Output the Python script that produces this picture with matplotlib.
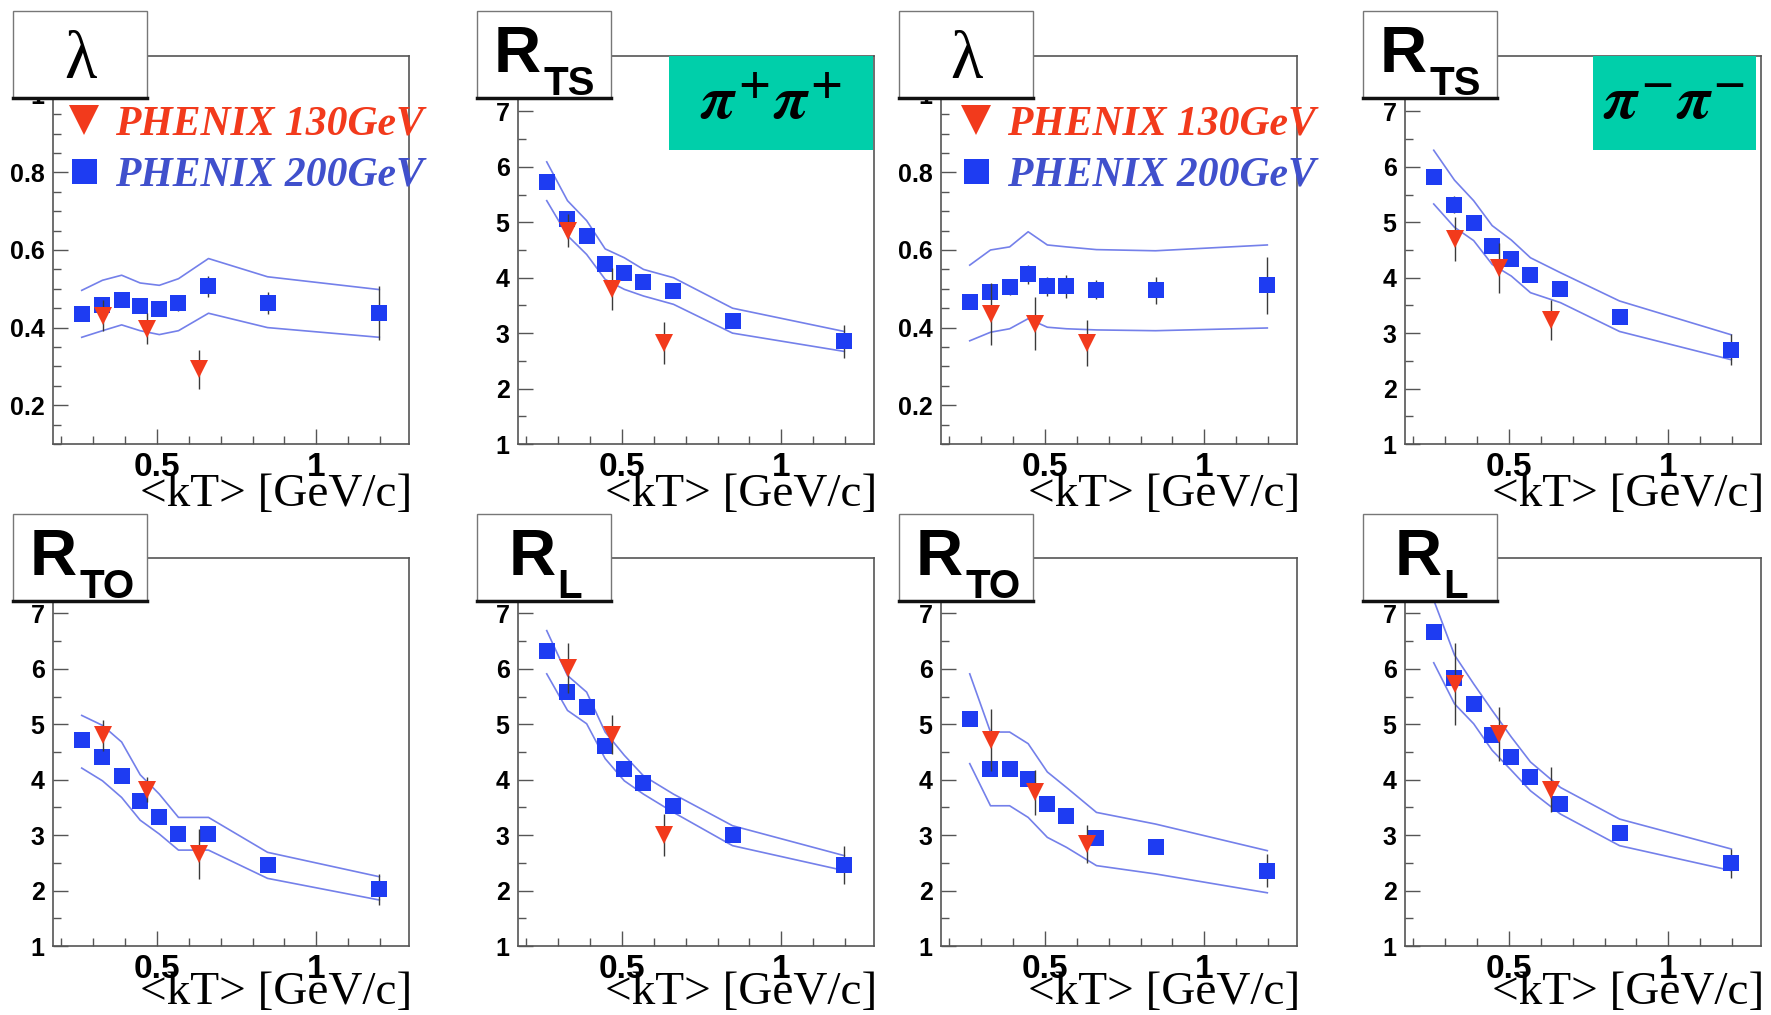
import matplotlib
matplotlib.use('Agg')
import matplotlib.pyplot as plt
from matplotlib.patches import Rectangle
from matplotlib.lines import Line2D
from matplotlib.ticker import MultipleLocator, FixedLocator, FuncFormatter

plt.rcParams['font.family'] = ['Liberation Sans', 'DejaVu Sans']
plt.rcParams['font.weight'] = 'bold'
plt.rcParams['mathtext.fontset'] = 'stix'

# pair momentum bins <kT> [GeV/c]
kt_200 = [0.265, 0.33, 0.39, 0.448, 0.508, 0.568, 0.662, 0.847, 1.197]
kt_130 = [0.333, 0.47, 0.633]

# lambda, pi+pi+
lam_pp_200 = [0.436, 0.457, 0.470, 0.455, 0.449, 0.463, 0.506, 0.463, 0.437]
lam_pp_200_err = [0.012, 0.015, 0.012, 0.015, 0.018, 0.02, 0.027, 0.029, 0.07]
lam_pp_130 = [0.431, 0.397, 0.293]
lam_pp_130_err = [0.04, 0.04, 0.05]
lam_pp_hi = [0.496, 0.522, 0.535, 0.515, 0.509, 0.526, 0.578, 0.531, 0.498]
lam_pp_lo = [0.375, 0.392, 0.407, 0.392, 0.382, 0.392, 0.437, 0.400, 0.375]

# R_TS, pi+pi+
rts_pp_200 = [5.73, 5.06, 4.76, 4.24, 4.09, 3.92, 3.76, 3.22, 2.85]
rts_pp_200_err = [0.1, 0.1, 0.1, 0.1, 0.1, 0.12, 0.08, 0.12, 0.3]
rts_pp_130 = [4.85, 3.79, 2.82]
rts_pp_130_err = [0.3, 0.38, 0.38]
rts_pp_hi = [6.09, 5.39, 5.03, 4.52, 4.36, 4.15, 4.0, 3.45, 3.03]
rts_pp_lo = [5.39, 4.76, 4.42, 3.97, 3.79, 3.67, 3.52, 3.0, 2.67]

# lambda, pi-pi-
lam_mm_200 = [0.466, 0.493, 0.505, 0.537, 0.506, 0.506, 0.498, 0.496, 0.509]
lam_mm_200_err = [0.01, 0.02, 0.02, 0.024, 0.025, 0.03, 0.025, 0.035, 0.073]
lam_mm_130 = [0.436, 0.41, 0.36]
lam_mm_130_err = [0.08, 0.068, 0.06]
lam_mm_hi = [0.561, 0.6, 0.608, 0.647, 0.613, 0.608, 0.601, 0.598, 0.613]
lam_mm_lo = [0.366, 0.388, 0.397, 0.423, 0.401, 0.397, 0.394, 0.392, 0.399]

# R_TS, pi-pi-
rts_mm_200 = [5.82, 5.32, 4.98, 4.58, 4.33, 4.05, 3.8, 3.3, 2.7]
rts_mm_200_err = [0.1, 0.15, 0.12, 0.1, 0.12, 0.12, 0.1, 0.1, 0.28]
rts_mm_130 = [4.7, 4.18, 3.24]
rts_mm_130_err = [0.39, 0.45, 0.36]
rts_mm_hi = [6.3, 5.76, 5.39, 4.94, 4.68, 4.36, 4.09, 3.58, 2.97]
rts_mm_lo = [5.33, 4.91, 4.67, 4.24, 4.03, 3.73, 3.55, 3.03, 2.52]

# R_TO, pi+pi+
rto_pp_200 = [4.71, 4.41, 4.07, 3.62, 3.32, 3.02, 3.02, 2.46, 2.02]
rto_pp_200_err = [0.1, 0.08, 0.1, 0.08, 0.08, 0.1, 0.08, 0.1, 0.28]
rto_pp_130 = [4.8, 3.82, 2.66]
rto_pp_130_err = [0.28, 0.22, 0.45]
rto_pp_hi = [5.16, 4.98, 4.68, 4.09, 3.74, 3.32, 3.32, 2.69, 2.25]
rto_pp_lo = [4.21, 3.98, 3.68, 3.27, 3.02, 2.73, 2.73, 2.22, 1.83]

# R_L, pi+pi+
rl_pp_200 = [6.32, 5.58, 5.32, 4.6, 4.2, 3.94, 3.53, 3.0, 2.46]
rl_pp_200_err = [0.1, 0.12, 0.12, 0.12, 0.1, 0.12, 0.06, 0.1, 0.35]
rl_pp_130 = [6.02, 4.81, 3.0]
rl_pp_130_err = [0.45, 0.35, 0.38]
rl_pp_hi = [6.69, 5.88, 5.58, 4.86, 4.44, 4.07, 3.74, 3.17, 2.63]
rl_pp_lo = [5.91, 5.25, 5.01, 4.38, 3.98, 3.74, 3.41, 2.81, 2.36]

# R_TO, pi-pi-
rto_mm_200 = [5.1, 4.2, 4.2, 4.02, 3.57, 3.35, 2.94, 2.79, 2.36]
rto_mm_200_err = [0.1, 0.1, 0.1, 0.1, 0.1, 0.1, 0.06, 0.1, 0.3]
rto_mm_130 = [4.72, 3.77, 2.84]
rto_mm_130_err = [0.56, 0.41, 0.35]
rto_mm_hi = [5.91, 4.86, 4.86, 4.65, 4.14, 3.86, 3.41, 3.2, 2.72]
rto_mm_lo = [4.29, 3.53, 3.53, 3.32, 2.96, 2.78, 2.45, 2.3, 1.96]

# R_L, pi-pi-
rl_mm_200 = [6.67, 5.83, 5.37, 4.8, 4.41, 4.05, 3.57, 3.03, 2.49]
rl_mm_200_err = [0.12, 0.12, 0.12, 0.1, 0.12, 0.12, 0.08, 0.1, 0.26]
rl_mm_130 = [5.73, 4.83, 3.82]
rl_mm_130_err = [0.74, 0.49, 0.41]
rl_mm_hi = [7.24, 6.25, 5.73, 5.25, 4.77, 4.32, 3.86, 3.29, 2.75]
rl_mm_lo = [6.11, 5.37, 5.01, 4.53, 4.17, 3.8, 3.38, 2.81, 2.36]

legend_labels = ['PHENIX 130GeV', 'PHENIX 200GeV']
pair_labels = [r'$\pi^{+}\pi^{+}$', r'$\pi^{-}\pi^{-}$']

# (row, col, param, subscript, 200, err, 130, err, band hi, band lo)
panels = [
    (0, 0, 'lam', '', lam_pp_200, lam_pp_200_err, lam_pp_130, lam_pp_130_err, lam_pp_hi, lam_pp_lo),
    (0, 1, 'R', 'TS', rts_pp_200, rts_pp_200_err, rts_pp_130, rts_pp_130_err, rts_pp_hi, rts_pp_lo),
    (0, 2, 'lam', '', lam_mm_200, lam_mm_200_err, lam_mm_130, lam_mm_130_err, lam_mm_hi, lam_mm_lo),
    (0, 3, 'R', 'TS', rts_mm_200, rts_mm_200_err, rts_mm_130, rts_mm_130_err, rts_mm_hi, rts_mm_lo),
    (1, 0, 'R', 'TO', rto_pp_200, rto_pp_200_err, rto_pp_130, rto_pp_130_err, rto_pp_hi, rto_pp_lo),
    (1, 1, 'R', 'L', rl_pp_200, rl_pp_200_err, rl_pp_130, rl_pp_130_err, rl_pp_hi, rl_pp_lo),
    (1, 2, 'R', 'TO', rto_mm_200, rto_mm_200_err, rto_mm_130, rto_mm_130_err, rto_mm_hi, rto_mm_lo),
    (1, 3, 'R', 'L', rl_mm_200, rl_mm_200_err, rl_mm_130, rl_mm_130_err, rl_mm_hi, rl_mm_lo),
]

RED = '#F23A1C'
BLUE = '#1E3CF2'
BAND = '#7480EA'
TEXT_BLUE = '#4050CC'
GREEN = '#00CFAA'
FRAME = '#555555'
ERR = '#3A3A3A'

W, H = 1771, 1015
fig = plt.figure(figsize=(W / 100, H / 100), dpi=100)


def fx(x):
    return x / W


def fy(y):
    return 1 - y / H


col_left = [53, 518, 941, 1405]
row_top = [56, 558]
ax_w, ax_h = 356, 388
box_left = [13, 477, 899, 1363]
box_top = [11, 514]
box_w, box_h = 134, 87

for row, col, par, sub, b, be, r, re, hi, lo in panels:
    left, top = col_left[col], row_top[row]
    ax = fig.add_axes([fx(left), fy(top + ax_h), ax_w / W, ax_h / H])

    ax.plot(kt_200, hi, color=BAND, lw=1.2)
    ax.plot(kt_200, lo, color=BAND, lw=1.2)
    ax.errorbar(kt_200, b, yerr=be, fmt='s', color=BLUE, ms=12, mew=0,
                ecolor=ERR, elinewidth=1, capsize=5, zorder=4)
    ax.errorbar(kt_130, r, yerr=re, fmt='v', color=RED, ms=13, mew=0,
                ecolor=ERR, elinewidth=1, capsize=5, zorder=5)

    ax.set_xlim(0.175, 1.29)
    ax.xaxis.set_major_locator(FixedLocator([0.5, 1.0]))
    ax.xaxis.set_minor_locator(MultipleLocator(0.1))
    if par == 'lam':
        ax.set_ylim(0.1, 1.1)
        ax.yaxis.set_major_locator(MultipleLocator(0.2))
        ax.yaxis.set_minor_locator(MultipleLocator(0.05))
    else:
        ax.set_ylim(1, 8)
        ax.yaxis.set_major_locator(MultipleLocator(1))
        ax.yaxis.set_minor_locator(MultipleLocator(0.5))
    ax.xaxis.set_major_formatter(FuncFormatter(lambda v, p: '%g' % v))
    ax.yaxis.set_major_formatter(FuncFormatter(lambda v, p: '%g' % v))

    ax.tick_params(which='both', direction='in', top=False, right=False,
                   color=FRAME, width=1)
    ax.tick_params(which='major', length=11)
    ax.tick_params(which='minor', length=6)
    ax.tick_params(axis='y', labelsize=18, pad=6)
    ax.tick_params(axis='x', labelsize=24, pad=6)
    for sp in ax.spines.values():
        sp.set_color(FRAME)
        sp.set_linewidth(1.2)

    ax.set_xlabel('<kT> [GeV/c]', fontsize=34, family='Liberation Serif',
                  weight='normal', ha='right', va='center')
    ax.xaxis.set_label_coords(1.01, -0.13 if row == 0 else -0.12)

    if par == 'lam':
        handles = [Line2D([], [], marker='v', color=RED, ls='none', ms=22, mew=0),
                   Line2D([], [], marker='s', color=BLUE, ls='none', ms=18, mew=0)]
        leg = ax.legend(handles, legend_labels, loc='upper left',
                        bbox_to_anchor=(0.028 if col == 0 else 0.04, 0.872),
                        frameon=False, borderpad=0, borderaxespad=0,
                        handlelength=1.0, handletextpad=0.25, labelspacing=0.3,
                        prop={'family': 'Liberation Serif', 'style': 'italic',
                              'weight': 'bold', 'size': 30})
        leg.get_texts()[0].set_color(RED)
        leg.get_texts()[1].set_color(TEXT_BLUE)
    elif row == 0:
        # pair-type tag in the corner of the R_TS panels
        g_left, g_right = (669, 873) if col == 1 else (1593, 1756)
        fig.add_artist(Rectangle((fx(g_left), fy(150)), (g_right - g_left) / W, 94 / H,
                                 transform=fig.transFigure, fc=GREEN, ec='none', zorder=6))
        fig.text(fx((g_left + g_right) / 2), fy(104), pair_labels[col // 2],
                 fontsize=44, weight='normal', ha='center', va='center', zorder=7)

    # parameter name box: thin frame, heavy bottom edge
    bl, bt = box_left[col], box_top[row]
    fig.add_artist(Rectangle((fx(bl), fy(bt + box_h)), box_w / W, box_h / H,
                             transform=fig.transFigure, fc='white', ec='#777777',
                             lw=1.0, zorder=10))
    fig.add_artist(Line2D([fx(bl), fx(bl + box_w)], [fy(bt + box_h)] * 2,
                          transform=fig.transFigure, color='#111111', lw=2.5,
                          zorder=12))
    if par == 'lam':
        fig.text(fx(bl + 67), fy(bt + 50), 'λ', family='Liberation Serif',
                 weight='normal', fontsize=48, ha='center', va='center', zorder=11)
    else:
        r_off, s_off = (32, 80) if sub == 'L' else (17, 66)
        fig.text(fx(bl + r_off), fy(bt + 61), 'R', fontsize=47, ha='left',
                 va='baseline', zorder=11)
        fig.text(fx(bl + s_off), fy(bt + 84), sub, fontsize=29, ha='left',
                 va='baseline', zorder=11)

fig.savefig('out.png', dpi=100)
